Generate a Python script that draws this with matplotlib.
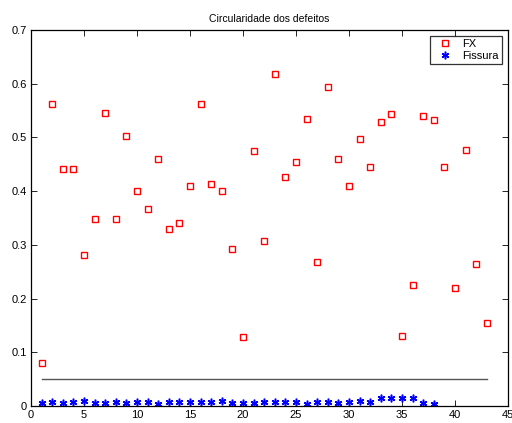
import matplotlib
matplotlib.use("Agg")
import matplotlib.pyplot as plt
import numpy as np

plt.rcParams['font.family'] = ['Liberation Sans', 'DejaVu Sans']

fx_values = [0.080, 0.562, 0.441, 0.441, 0.282, 0.349, 0.545, 0.349, 0.502, 0.401,
             0.366, 0.460, 0.330, 0.341, 0.410, 0.563, 0.413, 0.401, 0.292, 0.128,
             0.474, 0.307, 0.618, 0.426, 0.455, 0.535, 0.269, 0.593, 0.459, 0.409,
             0.497, 0.445, 0.528, 0.543, 0.130, 0.225, 0.539, 0.532, 0.445, 0.219,
             0.477, 0.265, 0.155]
fissura_values = [0.006, 0.0075, 0.005, 0.0075, 0.009, 0.005, 0.0056, 0.0075, 0.006, 0.008,
                  0.007, 0.0044, 0.0075, 0.008, 0.007, 0.007, 0.007, 0.009, 0.0056, 0.0056,
                  0.006, 0.007, 0.0075, 0.0075, 0.007, 0.0044, 0.0075, 0.0075, 0.0056, 0.007,
                  0.010, 0.0075, 0.015, 0.014, 0.015, 0.015, 0.006, 0.004]
threshold = 0.05
x_ticks = [0, 5, 10, 15, 20, 25, 30, 35, 40, 45]
y_ticks = [0, 0.1, 0.2, 0.3, 0.4, 0.5, 0.6, 0.7]
y_tick_labels = ['0', '0.1', '0.2', '0.3', '0.4', '0.5', '0.6', '0.7']

x_fx = np.arange(1, len(fx_values) + 1)
x_fis = np.arange(1, len(fissura_values) + 1)

fig = plt.figure(figsize=(5.12, 4.23), dpi=100)
ax = fig.add_axes([31 / 512, 1 - 406 / 423, 477 / 512, 376 / 423])

ax.plot(x_fx, fx_values, linestyle='none', marker='s', markersize=4.6,
        markerfacecolor='none', markeredgecolor='#ff0000', markeredgewidth=1.0, label='FX')
ax.plot(x_fis, fissura_values, linestyle='none', marker=(6, 2, 0), markersize=5.5,
        color='#0000ff', markeredgewidth=1.1, label='Fissura')
ax.plot([x_fx[0], x_fx[-1]], [threshold, threshold], color='#555555', linewidth=1.0)

ax.set_xlim(0, 45)
ax.set_ylim(0, 0.7)
ax.set_xticks(x_ticks)
ax.set_yticks(y_ticks)
ax.set_yticklabels(y_tick_labels)
ax.tick_params(direction='in', top=True, right=True, labelsize=8, length=4, width=0.6, pad=3)
for s in ax.spines.values():
    s.set_linewidth(0.9)

ax.set_title('Circularidade dos defeitos', fontsize=7.5, pad=6)

leg = ax.legend(loc='upper right', fontsize=8, frameon=True, fancybox=False,
                edgecolor='black', borderpad=0.3, handlelength=2.0, labelspacing=0.2,
                borderaxespad=0.5, handletextpad=0.6)
leg.get_frame().set_linewidth(0.9)

fig.savefig('out.png', dpi=100)
